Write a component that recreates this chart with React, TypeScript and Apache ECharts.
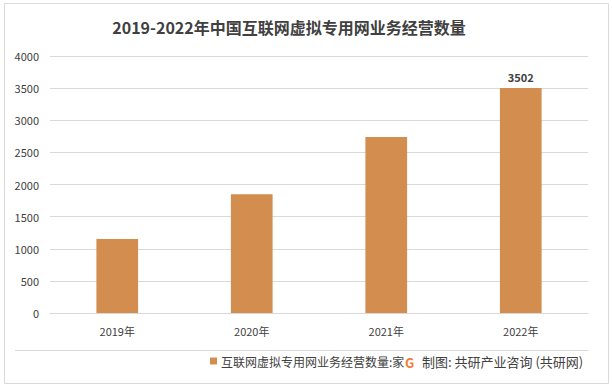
import React, { useEffect, useRef } from "react";
import * as echarts from "echarts";

const categories = ["2019年", "2020年", "2021年", "2022年"];
const values = [1150, 1850, 2740, 3502];
const seriesName = "互联网虚拟专用网业务经营数量:家";
const titleText = "2019-2022年中国互联网虚拟专用网业务经营数量";
const sourceText = "制图: 共研产业咨询 (共研网)";

export default function App() {
  const ref = useRef<HTMLDivElement>(null);
  useEffect(() => {
    if (!ref.current) return;
    const chart = echarts.init(ref.current, null, { renderer: "svg" });
    const font = "'Noto Sans CJK SC', 'Noto Sans', sans-serif";
    chart.setOption({
      animation: false,
      backgroundColor: "#ffffff",
      title: {
        text: titleText,
        left: 284,
        textAlign: "center",
        top: 14,
        textStyle: { fontFamily: font, fontSize: 16, fontWeight: "bold", color: "#404040" },
      },
      grid: { left: 50, right: 24, top: 56, bottom: 75 },
      legend: {
        left: 210,
        top: 355,
        padding: 0,
        itemWidth: 7,
        itemHeight: 7,
        itemGap: 4,
        icon: "rect",
        textStyle: { fontFamily: font, fontSize: 12, color: "#404040", padding: [0, 0, 0, -1] },
        data: [seriesName],
      },
      xAxis: {
        type: "category",
        data: categories,
        axisLine: { show: true, lineStyle: { color: "#D9D9D9" } },
        axisTick: { show: false },
        axisLabel: { fontFamily: font, fontSize: 11, color: "#404040", margin: 12 },
      },
      yAxis: {
        type: "value",
        min: 0,
        max: 4000,
        interval: 500,
        axisLine: { show: false },
        axisTick: { show: false },
        splitLine: { lineStyle: { color: "#D9D9D9" } },
        axisLabel: {
          fontFamily: font,
          fontSize: 11,
          color: "#404040",
          margin: 11,
          formatter: (v: number) => String(v),
        },
      },
      series: [
        {
          name: seriesName,
          type: "bar",
          data: values.map((v, i) => ({
            value: v,
            label: {
              show: i === values.length - 1,
              position: "top",
              distance: 6,
              fontFamily: font,
              fontSize: 11,
              fontWeight: "bold",
              color: "#404040",
            },
          })),
          barWidth: "31%",
          itemStyle: { color: "#D38D4F" },
        },
      ],
      graphic: [
        {
          type: "rect",
          shape: { x: 4.5, y: 3.5, width: 604, height: 380 },
          style: { fill: "none", stroke: "#D9D9D9", lineWidth: 1 },
          z: -1,
        },
        {
          type: "line",
          shape: { x1: 15, y1: 350.5, x2: 588, y2: 350.5 },
          style: { stroke: "#D9D9D9", lineWidth: 1 },
        },
        {
          type: "text",
          x: 405,
          y: 356,
          style: {
            text: "G",
            fontFamily: font,
            fontSize: 13,
            fontWeight: "bold",
            fill: "#F07B3A",
          },
        },
        {
          type: "text",
          x: 422,
          y: 355,
          style: { text: sourceText, fontFamily: font, fontSize: 13, fill: "#404040" },
        },
      ],
    });
    return () => chart.dispose();
  }, []);
  return (
    <div
      ref={ref}
      style={{ position: "fixed", left: 0, top: 0, width: 612, height: 388, background: "#fff" }}
    />
  );
}
